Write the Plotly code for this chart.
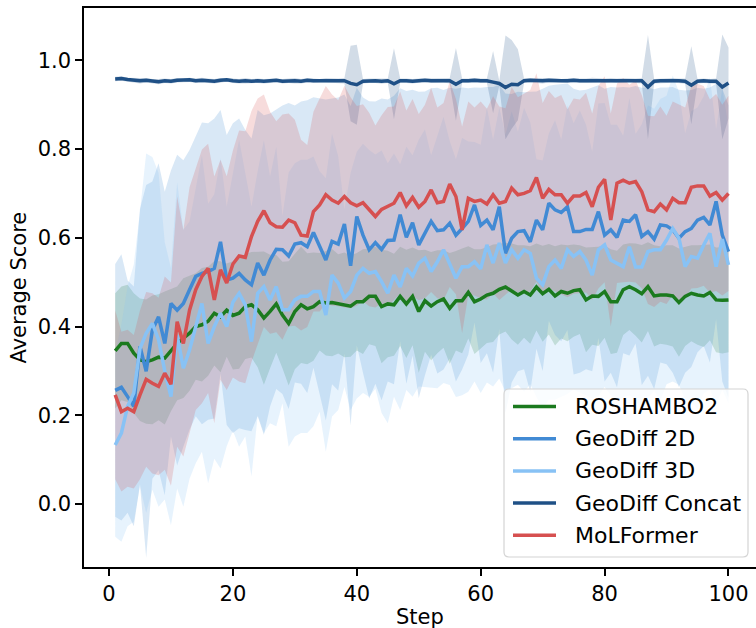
import plotly.graph_objects as go

steps = list(range(1, 101))

# mean score per step
roshambo2 = [
    0.345, 0.362, 0.362, 0.340, 0.325, 0.321, 0.325, 0.331, 0.329, 0.347,
    0.362, 0.374, 0.385, 0.400, 0.404, 0.412, 0.430, 0.422, 0.437, 0.425,
    0.430, 0.445, 0.449, 0.438, 0.419, 0.434, 0.451, 0.426, 0.407, 0.434,
    0.449, 0.440, 0.445, 0.456, 0.453, 0.454, 0.451, 0.449, 0.446, 0.456,
    0.456, 0.468, 0.468, 0.445, 0.451, 0.449, 0.468, 0.451, 0.468, 0.434,
    0.458, 0.446, 0.456, 0.462, 0.441, 0.458, 0.458, 0.477, 0.456, 0.462,
    0.471, 0.475, 0.484, 0.489, 0.479, 0.471, 0.479, 0.471, 0.489, 0.474,
    0.484, 0.469, 0.479, 0.475, 0.481, 0.483, 0.460, 0.469, 0.468, 0.479,
    0.456, 0.456, 0.483, 0.490, 0.483, 0.474, 0.490, 0.469, 0.471, 0.471,
    0.469, 0.454, 0.468, 0.475, 0.471, 0.469, 0.477, 0.460, 0.459, 0.460,
]
geodiff_2d = [
    0.256, 0.263, 0.242, 0.220, 0.355, 0.299, 0.392, 0.422, 0.362, 0.452,
    0.437, 0.452, 0.483, 0.513, 0.520, 0.524, 0.531, 0.591, 0.505, 0.509,
    0.520, 0.505, 0.494, 0.543, 0.516, 0.550, 0.574, 0.573, 0.559, 0.586,
    0.589, 0.580, 0.612, 0.580, 0.550, 0.592, 0.586, 0.631, 0.537, 0.648,
    0.606, 0.573, 0.589, 0.574, 0.594, 0.595, 0.652, 0.601, 0.634, 0.584,
    0.610, 0.637, 0.616, 0.618, 0.633, 0.606, 0.621, 0.637, 0.674, 0.628,
    0.640, 0.618, 0.670, 0.565, 0.599, 0.614, 0.616, 0.591, 0.640, 0.618,
    0.678, 0.663, 0.657, 0.670, 0.614, 0.614, 0.619, 0.619, 0.659, 0.606,
    0.618, 0.601, 0.640, 0.637, 0.652, 0.603, 0.614, 0.597, 0.629, 0.627,
    0.618, 0.599, 0.614, 0.621, 0.640, 0.646, 0.629, 0.682, 0.606, 0.569,
]
geodiff_3d = [
    0.133, 0.160, 0.220, 0.250, 0.350, 0.385, 0.407, 0.370, 0.300, 0.242,
    0.380, 0.306, 0.347, 0.400, 0.452, 0.362, 0.400, 0.430, 0.400, 0.455,
    0.475, 0.449, 0.366, 0.475, 0.490, 0.460, 0.490, 0.438, 0.438, 0.460,
    0.468, 0.468, 0.479, 0.479, 0.426, 0.516, 0.498, 0.464, 0.479, 0.516,
    0.531, 0.520, 0.524, 0.501, 0.475, 0.516, 0.489, 0.531, 0.514, 0.543,
    0.554, 0.524, 0.546, 0.573, 0.543, 0.509, 0.535, 0.535, 0.546, 0.530,
    0.584, 0.543, 0.588, 0.543, 0.573, 0.554, 0.573, 0.565, 0.509, 0.494,
    0.535, 0.550, 0.531, 0.573, 0.558, 0.569, 0.550, 0.516, 0.573, 0.584,
    0.550, 0.543, 0.535, 0.580, 0.534, 0.534, 0.569, 0.573, 0.573, 0.595,
    0.621, 0.599, 0.535, 0.558, 0.554, 0.584, 0.610, 0.535, 0.597, 0.539,
]
geodiff_concat = [
    0.958, 0.959, 0.957, 0.955, 0.954, 0.955, 0.953, 0.952, 0.954, 0.953,
    0.955, 0.955, 0.956, 0.954, 0.955, 0.954, 0.953, 0.955, 0.956, 0.954,
    0.953, 0.954, 0.953, 0.954, 0.953, 0.954, 0.955, 0.953, 0.954, 0.954,
    0.953, 0.955, 0.954, 0.954, 0.955, 0.954, 0.954, 0.954, 0.948, 0.945,
    0.953, 0.954, 0.954, 0.953, 0.954, 0.947, 0.954, 0.954, 0.953, 0.954,
    0.955, 0.954, 0.954, 0.955, 0.954, 0.946, 0.954, 0.954, 0.955, 0.954,
    0.954, 0.951, 0.948, 0.939, 0.946, 0.945, 0.954, 0.955, 0.954, 0.954,
    0.955, 0.954, 0.954, 0.954, 0.955, 0.954, 0.954, 0.955, 0.955, 0.954,
    0.955, 0.954, 0.955, 0.955, 0.954, 0.954, 0.940, 0.953, 0.954, 0.954,
    0.955, 0.954, 0.953, 0.944, 0.953, 0.954, 0.953, 0.953, 0.940, 0.949,
]
molformer = [
    0.246, 0.208, 0.216, 0.208, 0.246, 0.281, 0.272, 0.265, 0.295, 0.270,
    0.411, 0.362, 0.437, 0.483, 0.513, 0.531, 0.460, 0.528, 0.498, 0.541,
    0.559, 0.556, 0.603, 0.637, 0.661, 0.634, 0.625, 0.624, 0.640, 0.634,
    0.606, 0.604, 0.659, 0.674, 0.697, 0.685, 0.678, 0.693, 0.679, 0.672,
    0.679, 0.664, 0.648, 0.664, 0.670, 0.678, 0.702, 0.672, 0.691, 0.669,
    0.682, 0.708, 0.679, 0.682, 0.721, 0.693, 0.618, 0.689, 0.682, 0.685,
    0.676, 0.697, 0.678, 0.682, 0.712, 0.697, 0.700, 0.706, 0.736, 0.689,
    0.709, 0.697, 0.697, 0.678, 0.694, 0.694, 0.702, 0.670, 0.714, 0.732,
    0.640, 0.723, 0.730, 0.723, 0.727, 0.704, 0.663, 0.659, 0.676, 0.663,
    0.689, 0.679, 0.679, 0.714, 0.717, 0.717, 0.694, 0.702, 0.685, 0.700,
]

# spread (one standard deviation) per step
roshambo2_std = [
    0.130, 0.128, 0.132, 0.135, 0.138, 0.140, 0.145, 0.142, 0.150, 0.138,
    0.128, 0.135, 0.130, 0.120, 0.128, 0.123, 0.118, 0.125, 0.105, 0.122,
    0.125, 0.118, 0.119, 0.130, 0.150, 0.128, 0.110, 0.120, 0.140, 0.130,
    0.131, 0.125, 0.122, 0.110, 0.118, 0.121, 0.112, 0.118, 0.114, 0.110,
    0.118, 0.108, 0.112, 0.128, 0.120, 0.115, 0.112, 0.122, 0.110, 0.138,
    0.115, 0.122, 0.116, 0.110, 0.125, 0.112, 0.118, 0.104, 0.118, 0.112,
    0.108, 0.110, 0.102, 0.100, 0.108, 0.112, 0.104, 0.110, 0.098, 0.108,
    0.102, 0.112, 0.106, 0.108, 0.104, 0.100, 0.118, 0.110, 0.112, 0.104,
    0.118, 0.115, 0.102, 0.098, 0.104, 0.110, 0.100, 0.114, 0.110, 0.112,
    0.114, 0.122, 0.112, 0.108, 0.112, 0.115, 0.108, 0.118, 0.120, 0.118,
]
geodiff_2d_std = [
    0.285, 0.300, 0.262, 0.270, 0.310, 0.420, 0.335, 0.346, 0.342, 0.300,
    0.350, 0.323, 0.315, 0.315, 0.340, 0.334, 0.338, 0.297, 0.327, 0.349,
    0.349, 0.338, 0.330, 0.345, 0.360, 0.330, 0.315, 0.325, 0.345, 0.312,
    0.318, 0.330, 0.305, 0.335, 0.362, 0.322, 0.330, 0.292, 0.360, 0.290,
    0.310, 0.335, 0.318, 0.340, 0.318, 0.325, 0.285, 0.330, 0.300, 0.345,
    0.320, 0.300, 0.322, 0.315, 0.305, 0.330, 0.318, 0.300, 0.265, 0.310,
    0.300, 0.322, 0.275, 0.360, 0.325, 0.315, 0.312, 0.338, 0.290, 0.318,
    0.265, 0.282, 0.290, 0.278, 0.322, 0.318, 0.315, 0.320, 0.285, 0.330,
    0.322, 0.338, 0.300, 0.302, 0.290, 0.335, 0.325, 0.338, 0.310, 0.312,
    0.322, 0.335, 0.318, 0.312, 0.298, 0.290, 0.310, 0.265, 0.330, 0.330,
]
geodiff_3d_std = [
    0.207, 0.245, 0.270, 0.290, 0.310, 0.405, 0.375, 0.376, 0.290, 0.290,
    0.345, 0.312, 0.290, 0.308, 0.334, 0.315, 0.298, 0.350, 0.270, 0.290,
    0.346, 0.297, 0.304, 0.275, 0.330, 0.278, 0.315, 0.211, 0.309, 0.308,
    0.308, 0.308, 0.304, 0.271, 0.308, 0.319, 0.286, 0.200, 0.267, 0.278,
    0.281, 0.278, 0.264, 0.296, 0.293, 0.274, 0.277, 0.274, 0.272, 0.278,
    0.290, 0.262, 0.285, 0.300, 0.275, 0.268, 0.290, 0.282, 0.270, 0.280,
    0.310, 0.278, 0.305, 0.290, 0.312, 0.285, 0.320, 0.295, 0.268, 0.280,
    0.300, 0.315, 0.290, 0.325, 0.300, 0.318, 0.305, 0.278, 0.330, 0.320,
    0.305, 0.312, 0.295, 0.335, 0.300, 0.322, 0.330, 0.318, 0.340, 0.325,
    0.345, 0.330, 0.300, 0.328, 0.340, 0.335, 0.352, 0.310, 0.340, 0.312,
]
geodiff_concat_std = [
    0.005, 0.005, 0.004, 0.005, 0.006, 0.005, 0.005, 0.006, 0.005, 0.005,
    0.005, 0.004, 0.005, 0.005, 0.006, 0.005, 0.005, 0.005, 0.004, 0.005,
    0.005, 0.006, 0.005, 0.005, 0.005, 0.005, 0.004, 0.005, 0.005, 0.006,
    0.005, 0.005, 0.005, 0.004, 0.005, 0.005, 0.005, 0.006, 0.085, 0.090,
    0.005, 0.005, 0.005, 0.006, 0.005, 0.080, 0.005, 0.005, 0.005, 0.005,
    0.004, 0.005, 0.005, 0.005, 0.006, 0.082, 0.005, 0.005, 0.005, 0.005,
    0.005, 0.070, 0.006, 0.117, 0.100, 0.080, 0.005, 0.005, 0.005, 0.006,
    0.005, 0.005, 0.004, 0.005, 0.005, 0.005, 0.005, 0.006, 0.005, 0.005,
    0.005, 0.005, 0.005, 0.004, 0.005, 0.006, 0.117, 0.005, 0.005, 0.005,
    0.005, 0.005, 0.006, 0.088, 0.005, 0.005, 0.005, 0.006, 0.118, 0.080,
]
molformer_std = [
    0.190, 0.180, 0.177, 0.173, 0.190, 0.197, 0.203, 0.200, 0.218, 0.229,
    0.282, 0.255, 0.277, 0.271, 0.286, 0.281, 0.278, 0.248, 0.241, 0.256,
    0.283, 0.284, 0.283, 0.277, 0.262, 0.250, 0.238, 0.254, 0.240, 0.232,
    0.215, 0.205, 0.225, 0.240, 0.245, 0.238, 0.232, 0.250, 0.238, 0.225,
    0.222, 0.218, 0.205, 0.212, 0.225, 0.218, 0.228, 0.215, 0.222, 0.210,
    0.218, 0.230, 0.215, 0.222, 0.232, 0.220, 0.233, 0.218, 0.212, 0.222,
    0.215, 0.222, 0.218, 0.210, 0.228, 0.220, 0.225, 0.227, 0.235, 0.215,
    0.222, 0.218, 0.225, 0.212, 0.220, 0.218, 0.225, 0.210, 0.228, 0.232,
    0.240, 0.225, 0.230, 0.222, 0.228, 0.218, 0.212, 0.215, 0.220, 0.212,
    0.218, 0.222, 0.215, 0.228, 0.230, 0.225, 0.218, 0.222, 0.215, 0.220,
]

series_names = ["ROSHAMBO2", "GeoDiff 2D", "GeoDiff 3D", "GeoDiff Concat", "MoLFormer"]
series_means = [roshambo2, geodiff_2d, geodiff_3d, geodiff_concat, molformer]
series_stds = [roshambo2_std, geodiff_2d_std, geodiff_3d_std, geodiff_concat_std, molformer_std]
series_colors = [(27, 122, 30), (65, 138, 212), (136, 194, 245), (31, 80, 134), (214, 80, 80)]

x_ticks = [0, 20, 40, 60, 80, 100]
y_ticks = [0.0, 0.2, 0.4, 0.6, 0.8, 1.0]
y_tick_text = ["0.0", "0.2", "0.4", "0.6", "0.8", "1.0"]

FONT = "DejaVu Sans"
W, H = 756, 628
ML, MR, MT, MB = 84, 0, 8, 61
PW, PH = W - ML - MR, H - MT - MB


def px_x(px):
    """Pixel column -> paper x."""
    return (px - ML) / PW


def px_y(py):
    """Pixel row (from top) -> paper y."""
    return (H - MB - py) / PH


fig = go.Figure()

# shaded mean +/- std bands
for name, mean, std, rgb in zip(series_names, series_means, series_stds, series_colors):
    upper = [m + s for m, s in zip(mean, std)]
    lower = [m - s for m, s in zip(mean, std)]
    fig.add_trace(go.Scatter(
        x=steps + steps[::-1],
        y=upper + lower[::-1],
        fill="toself",
        fillcolor="rgba(%d,%d,%d,0.2)" % rgb,
        line=dict(width=0),
        mode="lines",
        hoverinfo="skip",
        showlegend=False,
    ))

# mean lines
for name, mean, rgb in zip(series_names, series_means, series_colors):
    fig.add_trace(go.Scatter(
        x=steps, y=mean, mode="lines", name=name, showlegend=False,
        line=dict(color="rgb(%d,%d,%d)" % rgb, width=3.5),
    ))

# legend box (lower right, rounded frame, translucent white)
bx0, bx1, by0, by1, r = 504, 748, 389, 557, 5
rx, ry = r / PW, r / PH
X0, X1, Y0, Y1 = px_x(bx0), px_x(bx1), px_y(by1), px_y(by0)
frame = (
    f"M {X0 + rx},{Y0} L {X1 - rx},{Y0} Q {X1},{Y0} {X1},{Y0 + ry} "
    f"L {X1},{Y1 - ry} Q {X1},{Y1} {X1 - rx},{Y1} "
    f"L {X0 + rx},{Y1} Q {X0},{Y1} {X0},{Y1 - ry} "
    f"L {X0},{Y0 + ry} Q {X0},{Y0} {X0 + rx},{Y0} Z"
)
shapes = [dict(type="path", path=frame, xref="paper", yref="paper",
               fillcolor="rgba(255,255,255,0.8)", line=dict(color="#d4d4d4", width=1.2),
               layer="above")]
annotations = []
row0, row_gap = 406.5, 32.2
for i, (name, rgb) in enumerate(zip(series_names, series_colors)):
    cy = row0 + i * row_gap
    shapes.append(dict(type="line", xref="paper", yref="paper",
                       x0=px_x(513), x1=px_x(556), y0=px_y(cy), y1=px_y(cy),
                       line=dict(color="rgb(%d,%d,%d)" % rgb, width=3.5), layer="above"))
    annotations.append(dict(text=name, xref="paper", yref="paper",
                            x=px_x(573), y=px_y(cy), xanchor="left", yanchor="middle",
                            showarrow=False,
                            font=dict(family=FONT, size=22, color="black")))

annotations += [
    dict(text="Average Score", xref="paper", yref="paper", x=px_x(18), y=0.5,
         xanchor="center", yanchor="middle", textangle=-90, showarrow=False,
         font=dict(family=FONT, size=21, color="black")),
    dict(text="Step", xref="paper", yref="paper", x=0.5, y=-0.09,
         xanchor="center", yanchor="middle", showarrow=False,
         font=dict(family=FONT, size=21, color="black")),
]

fig.update_layout(
    width=W, height=H,
    margin=dict(l=ML, r=MR, t=MT, b=MB),
    paper_bgcolor="white", plot_bgcolor="white",
    font=dict(family=FONT, size=21, color="black"),
    showlegend=False,
    shapes=shapes,
    annotations=annotations,
    xaxis=dict(
        range=[-4.036, 104.44], tickvals=x_ticks, ticks="outside", ticklen=7,
        tickwidth=1.5, tickcolor="black", showline=True, linecolor="black",
        linewidth=1.5, mirror=True, showgrid=False, zeroline=False,
        tickfont=dict(family=FONT, size=21, color="black"),
    ),
    yaxis=dict(
        range=[-0.142, 1.118], tickvals=y_ticks, ticktext=y_tick_text,
        ticks="outside", ticklen=7, tickwidth=1.5, tickcolor="black",
        showline=True, linecolor="black", linewidth=1.5, showgrid=False,
        zeroline=False, tickfont=dict(family=FONT, size=21, color="black"),
    ),
)

fig.write_html("out.html")
